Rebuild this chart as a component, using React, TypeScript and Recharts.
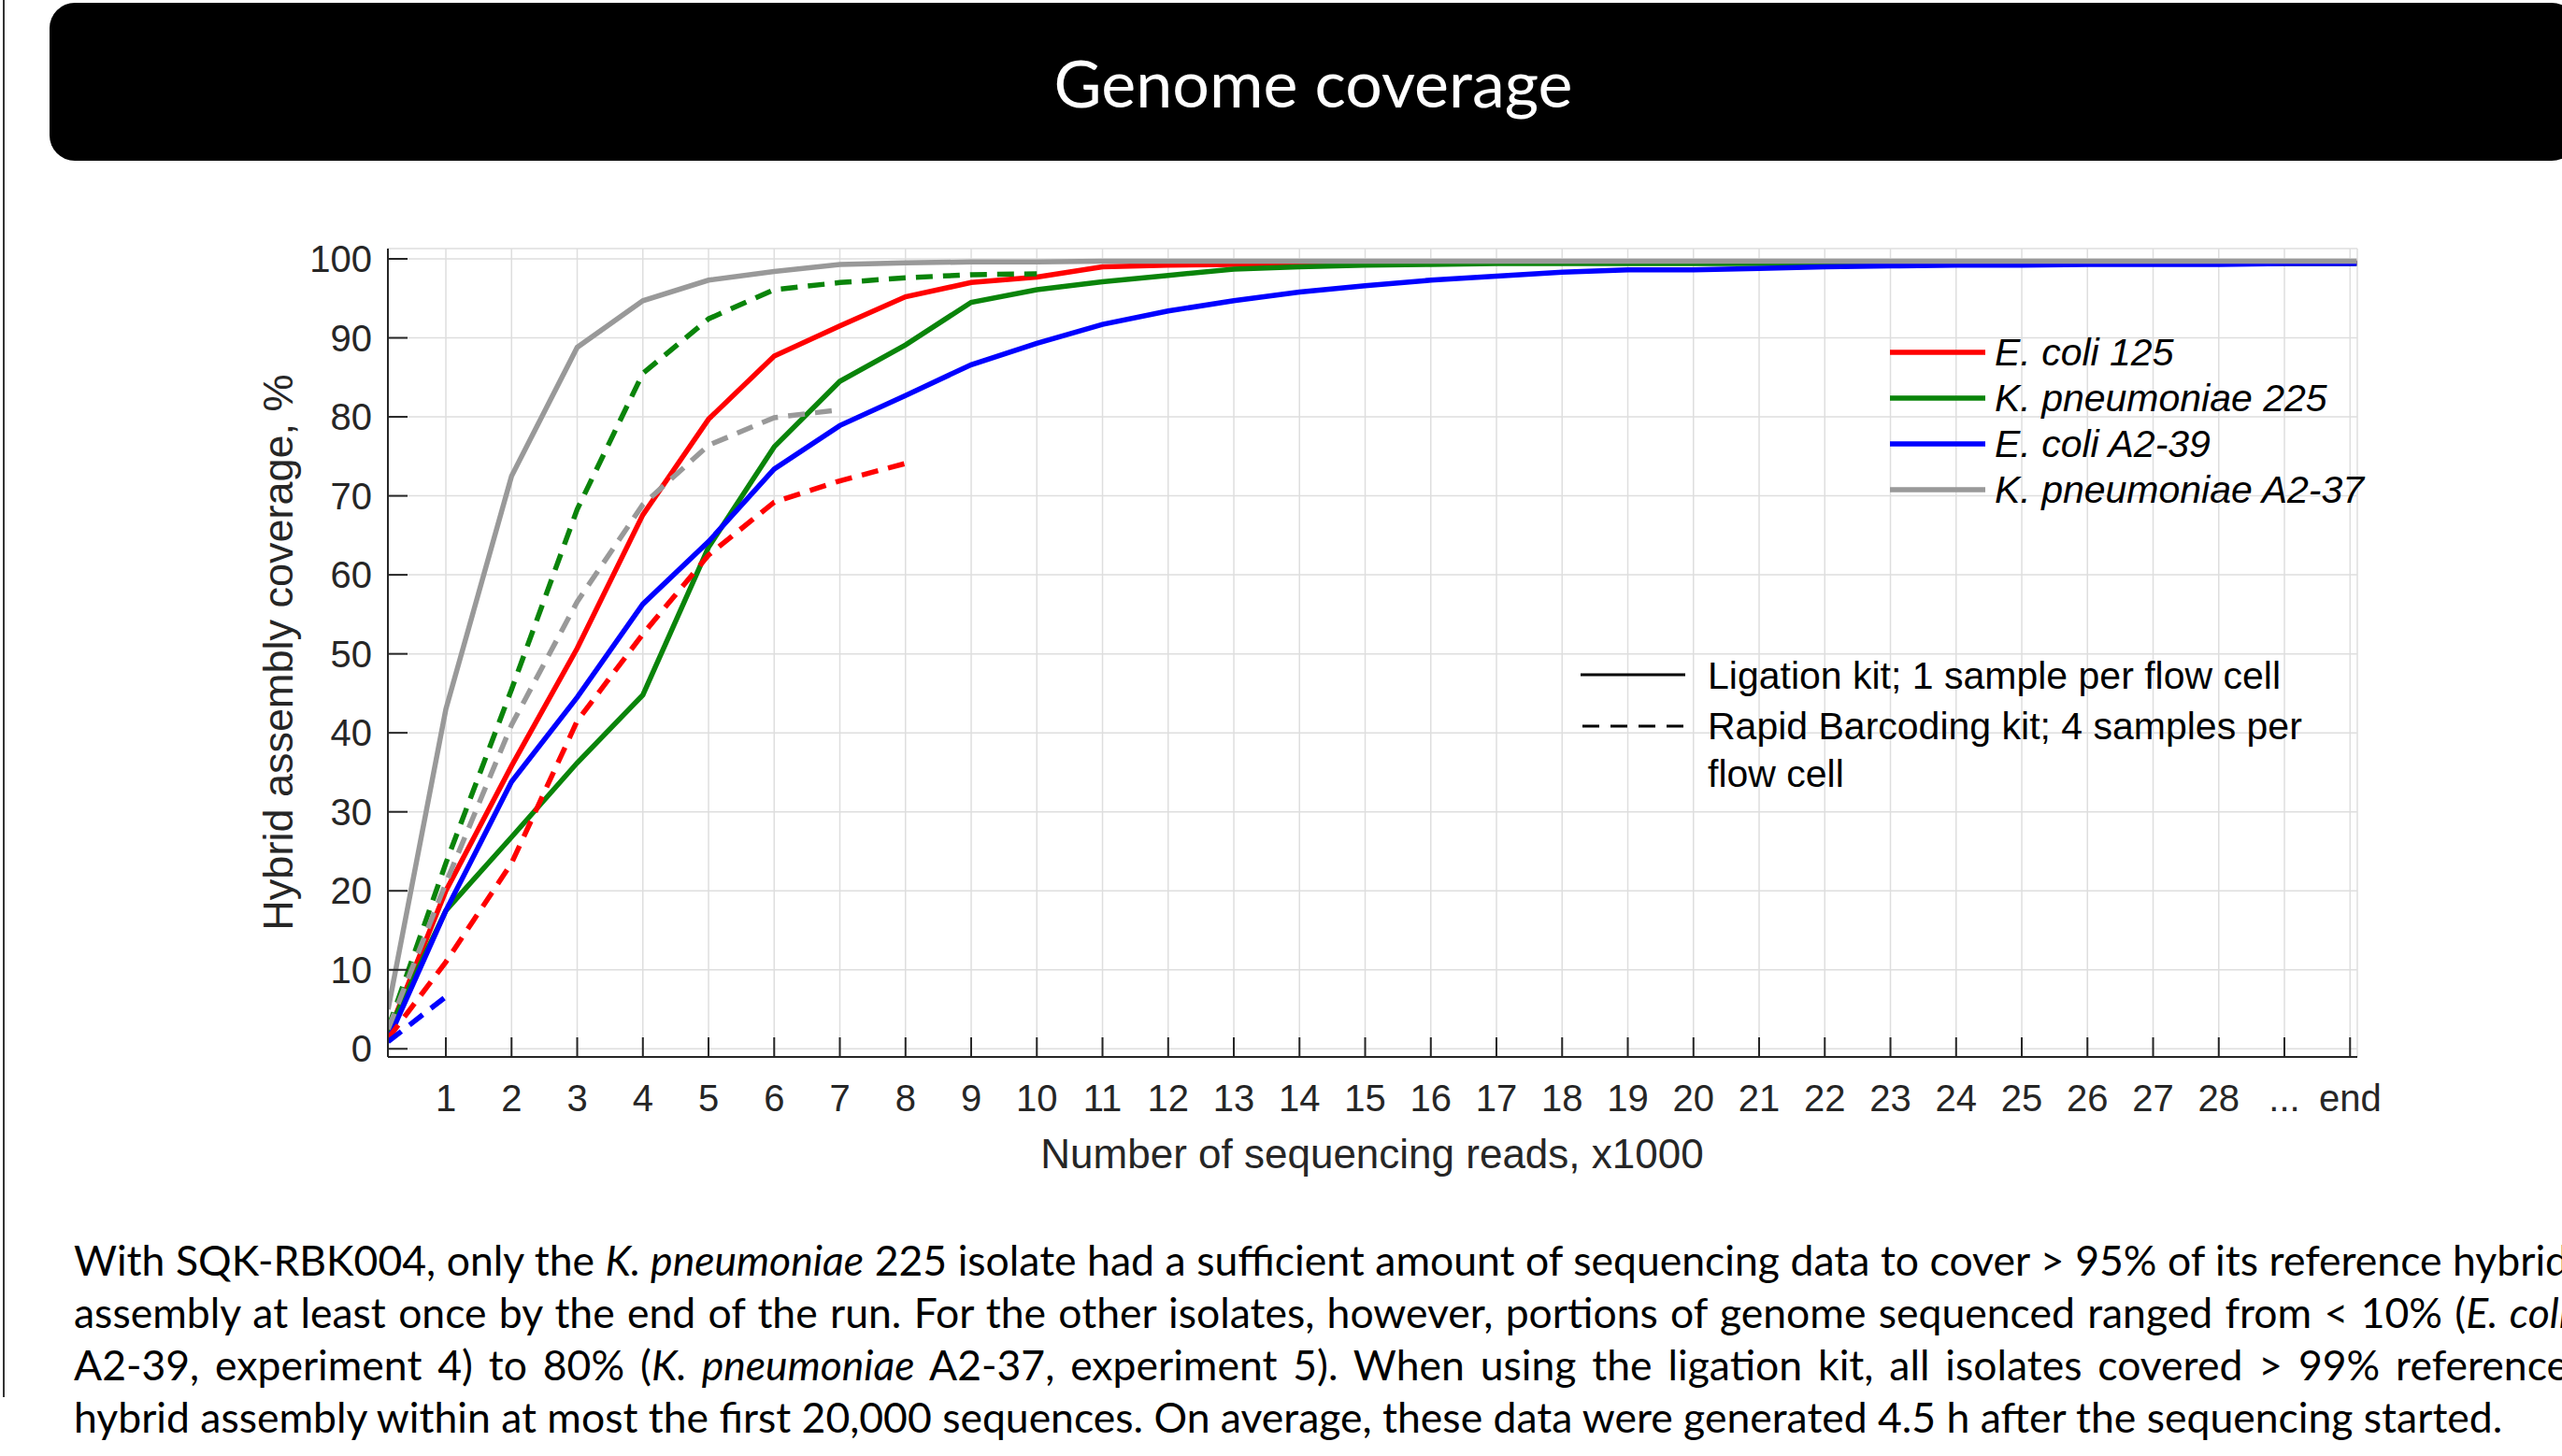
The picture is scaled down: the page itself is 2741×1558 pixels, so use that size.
import { LineChart, Line, XAxis, YAxis, CartesianGrid, Legend, Label } from 'recharts';

// x positions, thousands of reads (first sample and the run end sit just past the ticks)
const readsK = [0.12, 1, 2, 3, 4, 5, 6, 7, 8, 9, 10, 11, 12, 13, 14, 15, 16, 17, 18, 19, 20, 21, 22, 23, 24, 25, 26, 27, 28, 29, 30.1];

// ligation kit, 1 sample per flow cell
const ecoli125Lig = [1.9, 20, 35.8, 50.7, 67.6, 79.7, 87.7, 91.5, 95.2, 97.0, 97.7, 99.0, 99.2, 99.3, 99.4, 99.5, 99.5, 99.5, 99.5, 99.5, 99.5, 99.5, 99.5, 99.5, 99.5, 99.5, 99.5, 99.5, 99.5, 99.5, 99.5];
const kpn225Lig = [2.2, 17.5, 26.8, 36.2, 44.8, 63.5, 76.2, 84.5, 89.1, 94.5, 96.1, 97.1, 97.9, 98.7, 99.0, 99.2, 99.3, 99.4, 99.4, 99.4, 99.4, 99.4, 99.4, 99.4, 99.4, 99.4, 99.4, 99.4, 99.4, 99.4, 99.4];
const ecoliA239Lig = [1.1, 17.5, 33.8, 44.5, 56.3, 64.2, 73.4, 78.9, 82.7, 86.6, 89.3, 91.7, 93.4, 94.7, 95.8, 96.6, 97.3, 97.8, 98.3, 98.6, 98.6, 98.8, 99.0, 99.1, 99.2, 99.2, 99.3, 99.3, 99.3, 99.4, 99.4];
const kpnA237Lig = [5.0, 43, 72.5, 88.8, 94.7, 97.3, 98.4, 99.3, 99.5, 99.6, 99.6, 99.7, 99.7, 99.7, 99.7, 99.7, 99.7, 99.7, 99.7, 99.7, 99.7, 99.7, 99.7, 99.7, 99.7, 99.7, 99.7, 99.7, 99.7, 99.7, 99.7];

// rapid barcoding kit, 4 samples per flow cell (runs stop early)
const ecoli125Rapid = [1.3, 11, 23.5, 41.5, 52.5, 62.5, 69.2, 71.9, 74.1];
const kpn225Rapid = [2.6, 23.5, 45.5, 68.3, 85.5, 92.4, 96.1, 97.0, 97.6, 98.0, 98.1];
const ecoliA239Rapid = [0.9, 6.6];
const kpnA237Rapid = [2.5, 21, 41, 56.6, 68.9, 76.4, 79.9, 80.9];

const xTicks = [1, 2, 3, 4, 5, 6, 7, 8, 9, 10, 11, 12, 13, 14, 15, 16, 17, 18, 19, 20, 21, 22, 23, 24, 25, 26, 27, 28, 29, 30];
const xTickLabels = ['1', '2', '3', '4', '5', '6', '7', '8', '9', '10', '11', '12', '13', '14', '15', '16', '17', '18', '19', '20', '21', '22', '23', '24', '25', '26', '27', '28', '...', 'end'];
const yTicks = [0, 10, 20, 30, 40, 50, 60, 70, 80, 90, 100];

const seriesNames = ['E. coli 125', 'K. pneumoniae 225', 'E. coli A2-39', 'K. pneumoniae A2-37'];
const seriesColors = ['#ff0000', '#0a840a', '#0000ff', '#999999'];

const toPoints = (ys: number[]) => ys.map((y, i) => ({ x: readsK[i], y }));

const solidSeries = [ecoli125Lig, kpn225Lig, ecoliA239Lig, kpnA237Lig];
const dashedSeries = [ecoli125Rapid, kpn225Rapid, ecoliA239Rapid, kpnA237Rapid];

const AXIS = '#262626';
const SANS = '"Liberation Sans", Arial, sans-serif';
const SLIDE = 'Lato, "Open Sans", sans-serif';

const XTick = ({ x, y, payload }: any) => {
  const idx = xTicks.indexOf(payload.value);
  return (
    <g>
      <line x1={x} x2={x} y1={y} y2={y - 21} stroke={AXIS} strokeWidth={2} />
      <text x={x} y={y + 44} textAnchor="middle" dominantBaseline="central" fontSize={40} fill={AXIS} fontFamily={SANS}>
        {xTickLabels[idx]}
      </text>
    </g>
  );
};

const YTick = ({ x, y, payload }: any) => (
  <g>
    <line x1={x} x2={x + 21} y1={y} y2={y} stroke={AXIS} strokeWidth={2} />
    <text x={x - 17} y={y} textAnchor="end" dominantBaseline="central" fontSize={40} fill={AXIS} fontFamily={SANS}>
      {payload.value}
    </text>
  </g>
);

// only the ligation (solid) lines go in the isolate legend, in the original order
const SeriesLegend = ({ payload }: any) => {
  const entries = seriesNames
    .map((name) => (payload || []).find((e: any) => e.value === name))
    .filter(Boolean);
  return (
    <svg width={640} height={200} style={{ display: 'block', overflow: 'visible' }}>
      {entries.map((entry: any, i: number) => (
        <g key={entry.value}>
          <line x1={0} x2={102} y1={27 + i * 49} y2={27 + i * 49} stroke={entry.color} strokeWidth={5.5} />
          <text x={112} y={27 + i * 49} dominantBaseline="central" fontSize={41} fontStyle="italic" fill="#000" fontFamily={SANS}>
            {entry.value}
          </text>
        </g>
      ))}
    </svg>
  );
};

const justified = { textAlign: 'justify', textAlignLast: 'justify' } as const;

export default function App() {
  return (
    <div style={{ position: 'fixed', left: 0, top: 0, width: 2741, height: 1558, background: '#fff', overflow: 'hidden' }}>
      <div style={{ position: 'absolute', left: 3, top: 0, width: 2, height: 1495, background: '#333' }} />
      <div
        style={{
          position: 'absolute', left: 53, top: 3, width: 2704, height: 169, background: '#000', borderRadius: 27,
          display: 'flex', alignItems: 'center', justifyContent: 'center',
          color: '#fff', fontFamily: SLIDE, fontSize: 70,
        }}
      >
        Genome coverage
      </div>

      <div style={{ position: 'absolute', left: 0, top: 0 }}>
        <LineChart width={2741} height={1300} margin={{ top: 266, right: 219, left: 0, bottom: 0 }}>
          <CartesianGrid stroke="#dedede" strokeWidth={1.5} />
          <XAxis
            dataKey="x"
            type="number"
            domain={[0.117, 30.11]}
            allowDataOverflow
            ticks={xTicks}
            interval={0}
            height={169}
            tickSize={0}
            tickMargin={0}
            tickLine={false}
            tick={<XTick />}
            axisLine={{ stroke: AXIS, strokeWidth: 2 }}
          >
            <Label
              content={() => (
                <text x={1468} y={1234} textAnchor="middle" dominantBaseline="central" fontSize={44} fill={AXIS} fontFamily={SANS}>
                  Number of sequencing reads, x1000
                </text>
              )}
            />
          </XAxis>
          <YAxis
            type="number"
            domain={[-1.03, 101.3]}
            allowDataOverflow
            ticks={yTicks}
            interval={0}
            width={415}
            tickSize={0}
            tickMargin={0}
            tickLine={false}
            tick={<YTick />}
            axisLine={{ stroke: AXIS, strokeWidth: 2 }}
          >
            <Label
              content={() => (
                <text x={297} y={698} transform="rotate(-90 297 698)" textAnchor="middle" dominantBaseline="central" fontSize={45} fill={AXIS} fontFamily={SANS}>
                  Hybrid assembly coverage, %
                </text>
              )}
            />
          </YAxis>
          {solidSeries.map((ys, i) => (
            <Line
              key={`lig-${i}`}
              data={toPoints(ys)}
              dataKey="y"
              name={seriesNames[i]}
              type="linear"
              stroke={seriesColors[i]}
              strokeWidth={5.5}
              dot={false}
              activeDot={false}
              isAnimationActive={false}
            />
          ))}
          {dashedSeries.map((ys, i) => (
            <Line
              key={`rapid-${i}`}
              data={toPoints(ys)}
              dataKey="y"
              name={`${seriesNames[i]} (rapid)`}
              type="linear"
              stroke={seriesColors[i]}
              strokeWidth={5.5}
              strokeDasharray="18 11"
              dot={false}
              activeDot={false}
              legendType="none"
              isAnimationActive={false}
            />
          ))}
          <Legend
            layout="horizontal"
            align="center"
            verticalAlign="middle"
            wrapperStyle={{ left: 2022, top: 350, width: 640, height: 200 }}
            content={<SeriesLegend />}
          />
        </LineChart>
      </div>

      {/* kit legend */}
      <svg width={800} height={160} style={{ position: 'absolute', left: 1680, top: 690 }}>
        <line x1={11} x2={123} y1={32} y2={32} stroke="#000" strokeWidth={3} />
        <line x1={13} x2={126} y1={87} y2={87} stroke="#000" strokeWidth={3} strokeDasharray="18 12" />
        <text x={147} y={33} dominantBaseline="central" fontSize={41} fill="#000" fontFamily={SANS}>Ligation kit; 1 sample per flow cell</text>
        <text x={147} y={87} dominantBaseline="central" fontSize={41} fill="#000" fontFamily={SANS}>Rapid Barcoding kit; 4 samples per</text>
        <text x={147} y={138} dominantBaseline="central" fontSize={41} fill="#000" fontFamily={SANS}>flow cell</text>
      </svg>

      <div style={{ position: 'absolute', left: 79, top: 1320, width: 2669, fontFamily: SLIDE, fontSize: 44.5, lineHeight: '56px', color: '#000', whiteSpace: 'nowrap' }}>
        <div style={justified}>
          With SQK-RBK004, only the <i>K. pneumoniae</i> 225 isolate had a sufficient amount of sequencing data to cover &gt; 95% of its reference hybrid
        </div>
        <div style={justified}>
          assembly at least once by the end of the run. For the other isolates, however, portions of genome sequenced ranged from &lt; 10% (<i>E. coli</i>
        </div>
        <div style={justified}>
          A2-39, experiment 4) to 80% (<i>K. pneumoniae</i> A2-37, experiment 5). When using the ligation kit, all isolates covered &gt; 99% reference
        </div>
        <div>hybrid assembly within at most the first 20,000 sequences. On average, these data were generated 4.5 h after the sequencing started.</div>
      </div>
    </div>
  );
}
